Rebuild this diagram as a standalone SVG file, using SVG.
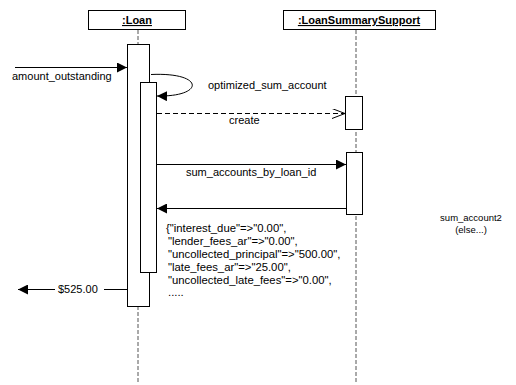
<svg xmlns="http://www.w3.org/2000/svg" width="516" height="385" viewBox="0 0 516 385">
  <style>
    text { font-family: "Liberation Sans", Arial, sans-serif; font-size: 11px; fill: #000; }
    .head { font-weight: bold; text-decoration: underline; text-anchor: middle; }
    .note { font-size: 9.5px; text-anchor: middle; }
    .json { font-size: 11.3px; }
    .box { fill: #fff; stroke: #000; stroke-width: 1; }
    .life { stroke: #555; stroke-width: 1; stroke-dasharray: 4 2; fill: none; }
    .act { fill: #fff; stroke: #000; stroke-width: 1; }
    .msg { stroke: #000; stroke-width: 1; fill: none; }
    .dash { stroke: #000; stroke-width: 1; stroke-dasharray: 5 3; fill: none; }
  </style>
  <defs>
    <marker id="filled" viewBox="0 0 10 10" refX="10" refY="5" markerWidth="10" markerHeight="10" markerUnits="userSpaceOnUse" orient="auto">
      <path d="M0,0 L10,5 L0,10 z" fill="#000"/>
    </marker>
    <marker id="open" viewBox="0 0 14 10" refX="13" refY="5" markerWidth="14" markerHeight="10" markerUnits="userSpaceOnUse" orient="auto">
      <path d="M0,0 L13,5 L0,10" fill="none" stroke="#000" stroke-width="1"/>
    </marker>
  </defs>

  <!-- lifelines -->
  <g id="lifelines">
    <line class="life" x1="138" y1="30" x2="138" y2="383"/>
    <line class="life" x1="356" y1="30" x2="356" y2="383"/>
  </g>

  <g id="loan">
    <rect class="box" x="88.5" y="10.5" width="97" height="19"/>
    <text class="head" x="137" y="24">:Loan</text>
    <rect class="act" x="127.5" y="44.5" width="22" height="262"/>
    <rect class="act" x="140.5" y="82.5" width="16" height="190"/>
  </g>

  <g id="loanSummarySupport">
    <rect class="box" x="283.5" y="10.5" width="152" height="19"/>
    <text class="head" x="359" y="24">:LoanSummarySupport</text>
    <rect class="act" x="345.5" y="96.5" width="17" height="33"/>
    <rect class="act" x="346.5" y="152.5" width="16" height="62"/>
  </g>

  <g id="connectors">
    <line class="msg" x1="15" y1="67.5" x2="127" y2="67.5" marker-end="url(#filled)"/>
    <path class="msg" d="M151,74.5 C205,72 205,97 157,96" marker-end="url(#filled)"/>
    <line class="dash" x1="157" y1="113.5" x2="345" y2="113.5" marker-end="url(#open)"/>
    <line class="msg" x1="157" y1="164.5" x2="346" y2="164.5" marker-end="url(#filled)"/>
    <line class="msg" x1="346" y1="208.5" x2="157" y2="208.5" marker-end="url(#filled)"/>
    <line class="msg" x1="127" y1="289.5" x2="104" y2="289.5"/>
    <line class="msg" x1="55" y1="289.5" x2="18" y2="289.5" marker-end="url(#filled)"/>
  </g>

  <g id="labels">
    <text x="12" y="80">amount_outstanding</text>
    <text x="208" y="89">optimized_sum_account</text>
    <text x="229" y="124">create</text>
    <text x="186" y="176">sum_accounts_by_loan_id</text>
    <text class="json" x="166" y="232">{"interest_due"=&gt;"0.00",</text>
    <text class="json" x="168" y="245">"lender_fees_ar"=&gt;"0.00",</text>
    <text class="json" x="168" y="258">"uncollected_principal"=&gt;"500.00",</text>
    <text class="json" x="168" y="271">"late_fees_ar"=&gt;"25.00",</text>
    <text class="json" x="168" y="284">"uncollected_late_fees"=&gt;"0.00",</text>
    <text class="json" x="168" y="296">.....</text>
    <text x="58" y="293">$525.00</text>
    <text class="note" x="471" y="221">sum_account2</text>
    <text class="note" x="471" y="233">(else...)</text>
  </g>
</svg>
